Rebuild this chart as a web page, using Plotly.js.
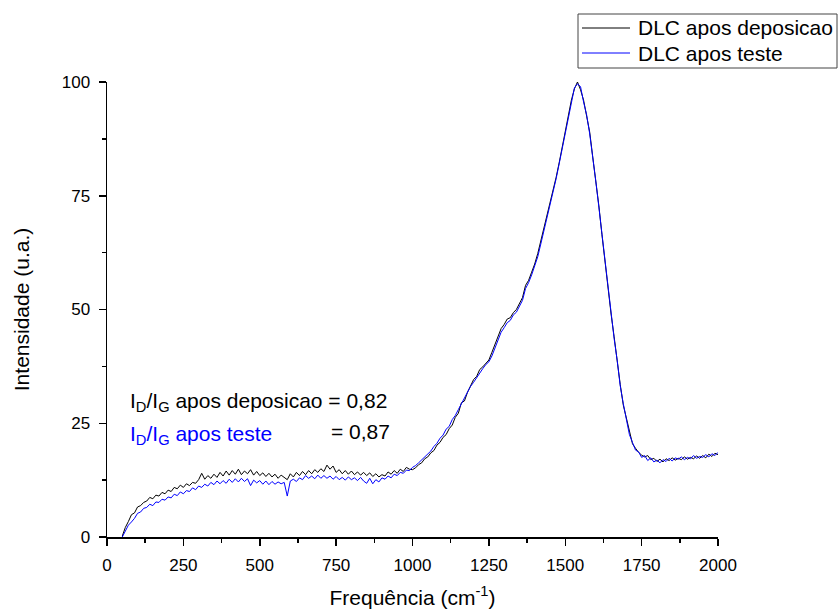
<!DOCTYPE html>
<html>
<head>
<meta charset="utf-8">
<script src="https://cdn.plot.ly/plotly-3.0.1.min.js"></script>
<style>html,body{margin:0;padding:0;background:#fff;}#chart{width:838px;height:613px;}</style>
</head>
<body>
<div id="chart"></div>
<script>
var frequencia = [50,60,70,80,90,100,110,120,130,140,150,160,170,180,190,200,210,220,230,240,250,260,270,280,290,300,310,320,330,340,350,360,370,380,390,400,410,420,430,440,450,460,470,480,490,500,510,520,530,540,550,560,570,580,590,600,610,620,630,640,650,660,670,680,690,700,710,720,730,740,750,760,770,780,790,800,810,820,830,840,850,860,870,880,890,900,910,920,930,940,950,960,970,980,990,1000,1010,1020,1030,1040,1050,1060,1070,1080,1090,1100,1110,1120,1130,1140,1150,1160,1170,1180,1190,1200,1210,1220,1230,1240,1250,1260,1270,1280,1290,1300,1310,1320,1330,1340,1350,1360,1370,1380,1390,1400,1410,1420,1430,1440,1450,1460,1470,1480,1490,1500,1510,1520,1530,1540,1550,1560,1570,1580,1590,1600,1610,1620,1630,1640,1650,1660,1670,1680,1690,1700,1710,1720,1730,1740,1750,1760,1770,1780,1790,1800,1810,1820,1830,1840,1850,1860,1870,1880,1890,1900,1910,1920,1930,1940,1950,1960,1970,1980,1990,2000];

var aposDeposicao = [0.2,2.1,3.4,4.9,5.3,6.6,6.9,7.6,7.9,8.7,8.4,9.2,9.0,9.8,9.5,10.3,10.0,10.9,10.6,11.4,10.9,11.7,11.3,12.0,11.8,12.6,14.0,12.7,13.5,12.9,13.8,13.1,14.2,13.4,14.5,13.6,14.6,13.8,14.9,13.7,14.5,13.9,14.8,13.6,14.4,13.5,14.1,13.3,14.0,13.2,13.8,12.9,13.6,13.0,12.6,13.9,13.2,14.2,13.5,14.4,13.7,14.6,13.9,14.8,14.2,15.0,14.4,15.8,14.9,15.6,14.2,14.8,13.9,14.6,13.8,14.5,13.7,14.3,13.6,14.2,13.5,14.1,13.3,13.9,13.2,13.7,13.4,14.3,13.8,14.6,14.0,14.9,14.4,15.3,14.9,14.8,15.2,15.9,16.3,17.2,17.6,18.5,19.0,20.2,20.8,21.9,22.5,23.8,24.6,26.3,27.2,29.5,29.9,31.8,33.4,34.6,35.3,36.8,37.4,38.2,38.9,40.6,42.4,44.3,45.8,46.7,47.9,48.2,49.3,50.0,51.2,52.6,55.3,56.4,58.2,60.0,62.3,65.0,67.8,70.8,73.5,76.4,79.0,82.2,85.6,89.6,92.8,96.0,98.5,100.0,98.3,96.0,92.5,89.0,83.5,78.5,72.8,66.5,60.5,54.5,49.0,44.0,38.5,33.5,29.0,26.0,22.8,20.5,19.5,18.6,18.0,17.6,17.9,17.0,17.3,16.6,17.1,16.5,17.2,16.8,17.4,16.9,17.3,17.0,17.6,17.1,17.5,17.2,17.8,17.3,17.9,17.4,18.2,17.7,18.4,18.1];

var aposTeste = [0.0,1.4,2.6,3.3,4.1,5.2,5.5,6.3,6.5,7.2,6.9,7.7,7.6,8.3,8.1,8.8,8.6,9.4,9.1,9.9,9.5,10.2,10.0,10.8,10.4,11.2,10.9,11.6,11.2,12.0,11.5,12.3,11.7,12.4,11.8,12.7,12.0,12.8,12.1,12.9,12.2,12.8,11.3,12.5,11.9,12.4,11.6,12.3,11.5,12.2,11.6,12.1,11.7,12.0,9.0,12.3,12.7,12.2,13.0,12.6,13.5,12.9,13.4,12.8,13.6,12.9,13.5,12.9,13.4,12.7,13.3,12.6,13.1,12.5,13.2,12.6,13.0,12.4,13.1,12.3,11.8,12.9,11.7,12.6,12.1,13.0,12.7,13.4,13.0,13.8,13.5,14.2,14.0,14.7,14.6,15.3,15.7,16.3,17.0,17.6,18.4,18.9,19.9,20.6,21.7,22.4,23.7,24.3,25.8,26.7,28.0,29.3,30.6,32.0,33.1,34.0,35.1,36.2,37.0,37.9,38.5,39.8,41.5,43.4,45.0,46.0,47.1,47.6,48.8,49.4,50.6,52.0,54.6,55.9,57.6,59.5,61.6,64.4,67.2,70.0,73.0,76.0,78.7,82.0,85.4,89.3,92.6,95.8,98.7,99.6,99.0,95.6,92.8,88.6,83.8,78.2,72.5,66.8,60.2,54.2,49.3,43.6,38.8,33.2,29.3,25.6,22.5,20.8,19.1,18.7,17.5,17.9,16.8,17.4,16.5,16.9,16.3,17.0,16.6,17.3,16.7,17.4,17.1,17.6,17.0,17.5,17.2,17.9,17.3,17.7,17.5,18.1,17.6,18.3,17.9,18.6];

var xTicks = [0,250,500,750,1000,1250,1500,1750,2000];
var yTicks = [0,25,50,75,100];
var seriesNames = ["DLC apos deposicao", "DLC apos teste"];
var seriesColors = ["#000000", "#0000ff"];

var FONT = "Liberation Sans, Arial, sans-serif";

var traces = [
  {x: frequencia, y: aposDeposicao, type: "scatter", mode: "lines", name: seriesNames[0],
   line: {color: seriesColors[0], width: 1}},
  {x: frequencia, y: aposTeste, type: "scatter", mode: "lines", name: seriesNames[1],
   line: {color: seriesColors[1], width: 1}}
];

// pixel -> paper helpers (plot area: x 107..718, y 82..537)
function px(x) { return (x - 107) / 611; }
function py(y) { return (537 - y) / 455; }

var axisCommon = {
  showline: true, linecolor: "#000", linewidth: 1.5, mirror: false,
  showgrid: false, zeroline: false,
  ticks: "outside", ticklen: 7, tickwidth: 1.5, tickcolor: "#000",
  ticklabelstandoff: 5,
  tickfont: {family: FONT, size: 17, color: "#000"},
  minor: {ticks: "outside", ticklen: 4, tickwidth: 1.5, tickcolor: "#000"}
};

// manual legend box
var legendShapes = [
  {type: "rect", xref: "paper", yref: "paper", x0: px(578), x1: px(837), y0: py(14), y1: py(68),
   line: {color: "#444", width: 1}, fillcolor: "#fff", layer: "above"}
];
var legendAnn = [];
seriesNames.forEach(function (n, i) {
  var yy = 28 + i * 25;
  legendShapes.push({type: "line", xref: "paper", yref: "paper", x0: px(582), x1: px(630), y0: py(yy), y1: py(yy),
    line: {color: seriesColors[i], width: 1}, layer: "above"});
  legendAnn.push({xref: "paper", yref: "paper", x: px(636), y: py(yy), xanchor: "left", yanchor: "middle",
    showarrow: false, text: n, font: {family: FONT, size: 21, color: "#000"}});
});

var layout = {
  width: 838, height: 613,
  margin: {l: 107, r: 120, t: 82, b: 76},
  paper_bgcolor: "#fff", plot_bgcolor: "#fff",
  font: {family: FONT, color: "#000"},
  showlegend: false,
  xaxis: Object.assign({}, axisCommon, {
    range: [0, 2000], tickvals: xTicks, ticktext: xTicks.map(String),
    minor: Object.assign({}, axisCommon.minor, {dtick: 125, tick0: 0}),
    title: {text: "Frequência (cm<sup>-1</sup>)", font: {family: FONT, size: 21, color: "#000"}, standoff: 16}
  }),
  yaxis: Object.assign({}, axisCommon, {
    range: [0, 100], tickvals: yTicks, ticktext: yTicks.map(String),
    minor: Object.assign({}, axisCommon.minor, {dtick: 12.5, tick0: 0}),
    title: {text: "Intensidade (u.a.)", font: {family: FONT, size: 21, color: "#000"}, standoff: 26}
  }),
  shapes: legendShapes,
  annotations: [
    {xref: "paper", yref: "paper", x: px(128), y: py(402), xanchor: "left", yanchor: "middle",
     showarrow: false, text: "I<sub>D</sub>/I<sub>G</sub> apos deposicao = 0,82",
     font: {family: FONT, size: 21, color: "#000"}},
    {xref: "paper", yref: "paper", x: px(128), y: py(435), xanchor: "left", yanchor: "middle",
     showarrow: false, text: "I<sub>D</sub>/I<sub>G</sub> apos teste",
     font: {family: FONT, size: 21, color: "#0000ff"}},
    {xref: "paper", yref: "paper", x: px(329), y: py(432), xanchor: "left", yanchor: "middle",
     showarrow: false, text: "= 0,87",
     font: {family: FONT, size: 21, color: "#000"}}
  ].concat(legendAnn)
};

Plotly.newPlot("chart", traces, layout, {displayModeBar: false, staticPlot: true});
</script>
</body>
</html>
